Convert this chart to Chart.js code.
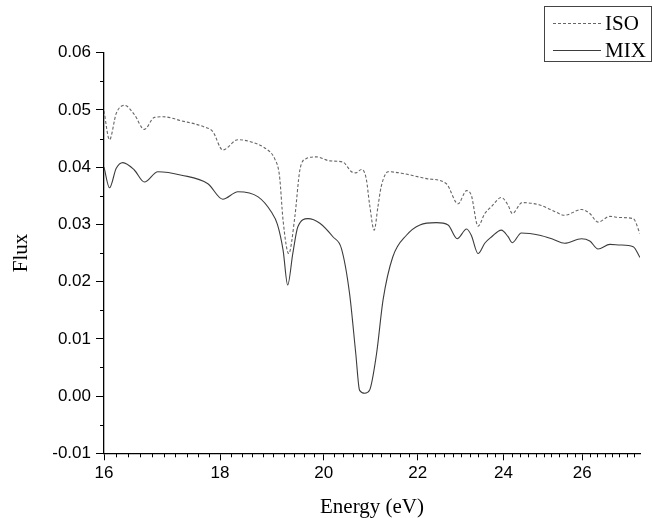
<!DOCTYPE html>
<html>
<head>
<meta charset="utf-8">
<script src="https://cdn.jsdelivr.net/npm/chart.js@4.4.1/dist/chart.umd.min.js"></script>
<style>
  html, body { margin: 0; padding: 0; background: #ffffff; }
  #wrap { width: 653px; height: 518px; position: relative; }
</style>
</head>
<body>
<div id="wrap"><canvas id="c" width="653" height="518"></canvas></div>
<script>
// ---- data ----
const seriesLabels = ['ISO', 'MIX'];

const isoEnergy = [16.00,16.09,16.20,16.34,16.50,16.67,16.84,16.99,17.31,17.72,17.87,18.05,18.33,18.58,18.83,19.03,19.12,19.19,19.30,19.42,19.52,19.65,19.85,20.12,20.39,20.57,20.66,20.78,20.88,20.95,21.05,21.13,21.20,21.35,21.67,22.20,22.65,22.92,23.12,23.23,23.39,23.55,23.71,23.95,24.11,24.22,24.46,24.90,25.24,25.54,25.98,26.20,26.42,26.74,27.01,27.38,27.57];
const isoFlux = [0.0498,0.0448,0.0494,0.0508,0.0492,0.0466,0.0487,0.0488,0.0481,0.0470,0.0462,0.0430,0.0448,0.0444,0.0434,0.0414,0.0385,0.0307,0.0249,0.0313,0.0395,0.0415,0.0418,0.0411,0.0409,0.0392,0.0390,0.0396,0.0380,0.0336,0.0290,0.0331,0.0366,0.0392,0.0389,0.0380,0.0371,0.0336,0.0359,0.0351,0.0297,0.0319,0.0331,0.0347,0.0334,0.0319,0.0338,0.0334,0.0324,0.0316,0.0326,0.0319,0.0304,0.0314,0.0312,0.0310,0.0284];

const mixEnergy = [16.00,16.09,16.20,16.31,16.50,16.67,16.90,17.31,17.78,18.05,18.33,18.71,18.96,19.08,19.19,19.28,19.38,19.48,19.68,19.92,20.19,20.36,20.53,20.66,20.74,20.85,20.95,21.10,21.24,21.45,21.75,22.05,22.42,22.69,22.90,23.12,23.23,23.39,23.55,23.71,23.95,24.11,24.22,24.44,24.90,25.24,25.54,25.98,26.20,26.42,26.74,27.01,27.38,27.57];
const mixFlux = [0.0400,0.0364,0.0398,0.0408,0.0395,0.0374,0.0392,0.0386,0.0371,0.0344,0.0357,0.0348,0.0322,0.0300,0.0255,0.0194,0.0249,0.0296,0.0310,0.0302,0.0278,0.0258,0.0179,0.0074,0.0010,0.0005,0.0010,0.0074,0.0168,0.0243,0.0281,0.0299,0.0303,0.0299,0.0275,0.0292,0.0281,0.0249,0.0267,0.0278,0.0290,0.0279,0.0268,0.0285,0.0281,0.0274,0.0267,0.0275,0.0271,0.0257,0.0265,0.0264,0.0261,0.0242];

const xTickValues = [16, 18, 20, 22, 24, 26];
const yTickValues = [-0.01, 0.00, 0.01, 0.02, 0.03, 0.04, 0.05, 0.06];
const xTitle = 'Energy (eV)';
const yTitle = 'Flux';

// ---- chart ----
const X_MIN = 16, X_MAX = 27.57, Y_MIN = -0.01, Y_MAX = 0.06;
const xMinorStep = 0.2, yMinorStep = 0.005;

function toPoints(xs, ys) { return xs.map((x, i) => ({ x: x, y: ys[i] })); }

const minorTicks = {
  id: 'minorTicks',
  afterDraw(chart) {
    const ctx = chart.ctx;
    const xs = chart.scales.x, ys = chart.scales.y;
    ctx.save();
    ctx.strokeStyle = '#000';
    ctx.lineWidth = 1;
    ctx.beginPath();
    for (let v = X_MIN + xMinorStep; v < X_MAX; v += xMinorStep) {
      const r = Math.round(v * 10) / 10;
      if (Math.abs(r / 2 - Math.round(r / 2)) < 1e-6) continue;
      const px = Math.round(xs.getPixelForValue(r)) + 0.5;
      ctx.moveTo(px, xs.top);
      ctx.lineTo(px, xs.top + 4);
    }
    for (let i = 1; i < 14; i += 2) {
      const v = Y_MIN + i * yMinorStep;
      const py = Math.round(ys.getPixelForValue(v)) + 0.5;
      ctx.moveTo(ys.right, py);
      ctx.lineTo(ys.right - 4, py);
    }
    ctx.stroke();
    ctx.restore();
  }
};

const boxLegend = {
  id: 'boxLegend',
  afterDraw(chart) {
    const ctx = chart.ctx;
    ctx.save();
    ctx.strokeStyle = '#444';
    ctx.lineWidth = 1;
    ctx.strokeRect(544.5, 6.5, 107, 55);
    const rows = [23, 50];
    chart.data.datasets.forEach((ds, i) => {
      const y = rows[i];
      ctx.strokeStyle = ds.borderColor;
      ctx.lineWidth = ds.borderWidth;
      ctx.setLineDash(ds.borderDash || []);
      ctx.beginPath();
      ctx.moveTo(553, y + 0.5);
      ctx.lineTo(601, y + 0.5);
      ctx.stroke();
      ctx.setLineDash([]);
      ctx.fillStyle = '#000';
      ctx.font = '21px "Liberation Serif", "Times New Roman", serif';
      ctx.textBaseline = 'middle';
      ctx.textAlign = 'left';
      ctx.fillText(ds.label, 605, y + 1);
    });
    ctx.restore();
  }
};

new Chart(document.getElementById('c'), {
  type: 'line',
  data: {
    datasets: [
      {
        label: seriesLabels[0],
        data: toPoints(isoEnergy, isoFlux),
        borderColor: '#666666',
        borderWidth: 1.1,
        borderDash: [3, 2],
        pointRadius: 0,
        fill: false,
        cubicInterpolationMode: 'monotone'
      },
      {
        label: seriesLabels[1],
        data: toPoints(mixEnergy, mixFlux),
        borderColor: '#3c3c3c',
        borderWidth: 1.1,
        pointRadius: 0,
        fill: false,
        cubicInterpolationMode: 'monotone'
      }
    ]
  },
  options: {
    responsive: false,
    animation: false,
    events: [],
    layout: { padding: { top: 52.7, right: 13, left: 0, bottom: 0 } },
    plugins: { legend: { display: false }, tooltip: { enabled: false }, title: { display: false } },
    scales: {
      x: {
        type: 'logarithmic',
        min: X_MIN, max: X_MAX,
        afterBuildTicks(scale) { scale.ticks = xTickValues.map(v => ({ value: v })); },
        afterFit(scale) { scale.height = 518 - 453.3; },
        ticks: {
          autoSkip: false, maxRotation: 0, padding: 3,
          color: '#000',
          font: { family: '"Liberation Sans", Arial, sans-serif', size: 17 },
          callback: (v) => String(v)
        },
        grid: { display: true, drawOnChartArea: false, drawTicks: true, tickLength: 7, color: '#000', lineWidth: 1 },
        border: { display: true, color: '#000', width: 1.3 },
        title: {
          display: true, text: xTitle, color: '#000',
          font: { family: '"Liberation Serif", "Times New Roman", serif', size: 21, lineHeight: 1 },
          padding: { top: 0, bottom: 0 }
        }
      },
      y: {
        type: 'linear',
        min: Y_MIN, max: Y_MAX,
        afterBuildTicks(scale) { scale.ticks = yTickValues.map(v => ({ value: v })); },
        afterFit(scale) { scale.width = 104; },
        ticks: {
          padding: 5,
          color: '#000',
          font: { family: '"Liberation Sans", Arial, sans-serif', size: 17 },
          callback: (v) => Number(v).toFixed(2)
        },
        grid: { display: true, drawOnChartArea: false, drawTicks: true, tickLength: 8, color: '#000', lineWidth: 1 },
        border: { display: true, color: '#000', width: 1.3 },
        title: {
          display: true, text: yTitle, color: '#000',
          font: { family: '"Liberation Serif", "Times New Roman", serif', size: 21, lineHeight: 1 },
          padding: { top: 11, bottom: 0 }
        }
      }
    }
  },
  plugins: [minorTicks, boxLegend]
});
</script>
</body>
</html>
